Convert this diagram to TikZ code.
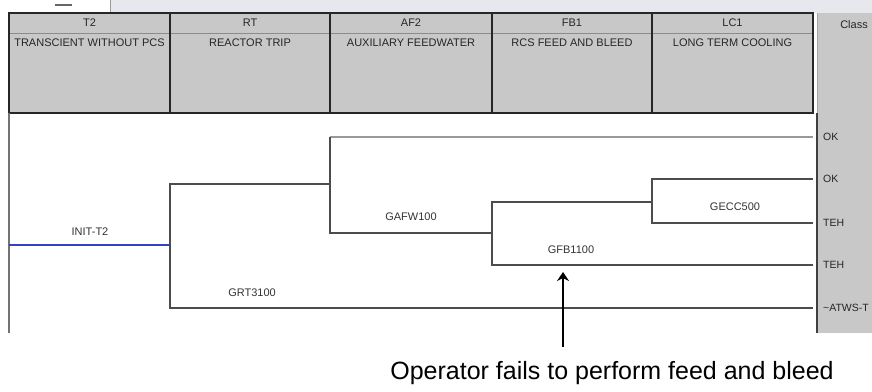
\documentclass[tikz,border=0pt]{standalone}
\usepackage{fontspec}
\setmainfont{Liberation Sans}
\usetikzlibrary{arrows.meta}
\definecolor{hdrgray}{HTML}{C8C8C8}
\definecolor{bargray}{HTML}{E6E8EE}
\definecolor{initblue}{HTML}{3340C8}
\begin{document}
\begin{tikzpicture}[x=1pt,y=-1pt,>={Stealth[length=9pt,width=12pt,inset=3pt]},
	hdr/.style={font=\fontsize{11}{13}\selectfont,text=black!85,inner sep=0pt},
	lbl/.style={font=\fontsize{11}{13}\selectfont,text=black!80,inner sep=0pt},
	cls/.style={font=\fontsize{10.5}{12}\selectfont,text=black!85,anchor=west,inner sep=0pt},
	br/.style={draw=black!70,line width=1.1pt},
	frame/.style={draw=black!85,line width=2pt}]
	\useasboundingbox (0,0) rectangle (872,391);
	% window strip
	\fill[bargray] (110,0) rectangle (872,13);
	\draw[black!40] (110,0) -- (110,13);
	\draw[black!60,line width=1.2pt] (55,5) -- (72,5);
	% header
	\fill[hdrgray] (9,13) rectangle (813,113);
	\fill[hdrgray] (817,13) rectangle (872,333);
	\foreach \xa/\xb/\code/\title [count=\i] in {9/170/T2/TRANSCIENT WITHOUT PCS,
		170/330/RT/REACTOR TRIP,330/492/AF2/AUXILIARY FEEDWATER,
		492/652/FB1/RCS FEED AND BLEED,652/813/LC1/LONG TERM COOLING}{
		\draw[black!45,line width=1pt] (\xa,33) -- (\xb,33);
		\draw[frame] (\xa,13) rectangle (\xb,113);
		\node[hdr] (code\i) at ({(\xa+\xb)/2},23) {\code};
		\node[hdr,anchor=north] (title\i) at ({(\xa+\xb)/2},39) {\title};
	}
	\node[hdr] (class) at (854,25) {Class};
	\draw[black!35] (817,13) -- (817,113);
	\draw[black!75,line width=1.2pt] (817,113) -- (817,333);
	\draw[black!55,line width=1.2pt] (9,113) -- (9,333);
	% event tree
	\coordinate (init) at (9,245);
	\coordinate (rt) at (170,245);
	\coordinate (af) at (330,184);
	\coordinate (fb) at (492,233);
	\coordinate (lc) at (652,202);
	\foreach \y [count=\i] in {137,179,223,265,308}
		\coordinate (e\i) at (813,\y);
	\draw[initblue,line width=1.3pt] (init) -- (rt);
	\draw[br] (e5) -- (e5 -| rt) |- (af);
	\draw[br,draw=black!40] (e1) -- (e1 -| af);
	\draw[br] (e1 -| af) |- (fb);
	\draw[br] (e4) -- (e4 -| fb) |- (lc);
	\draw[br] (e2) -- (e2 -| lc) |- (e3);
	\node[lbl] (initlbl) at (90,232) {INIT-T2};
	\node[lbl] (gafw) at (411,217) {GAFW100};
	\node[lbl] (gfb) at (571,250) {GFB1100};
	\node[lbl] (gecc) at (735,207) {GECC500};
	\node[lbl] (grt) at (252,293) {GRT3100};
	% end states
	\node[cls] (c1) at (823,137) {OK};
	\node[cls] (c2) at (823,179) {OK};
	\node[cls] (c3) at (823,223) {TEH};
	\node[cls] (c4) at (823,265) {TEH};
	\node[cls] (c5) at (823,308) {\textasciitilde ATWS-T};
	% note
	\node[font=\fontsize{25}{30}\selectfont] (note) at (612,373) {Operator fails to perform feed and bleed};
	\coordinate (tip) at (563,272);
	\coordinate (tail) at (563,347);
	\draw[->,line width=2.4pt] (tail) -- (tip);
\end{tikzpicture}
\end{document}
